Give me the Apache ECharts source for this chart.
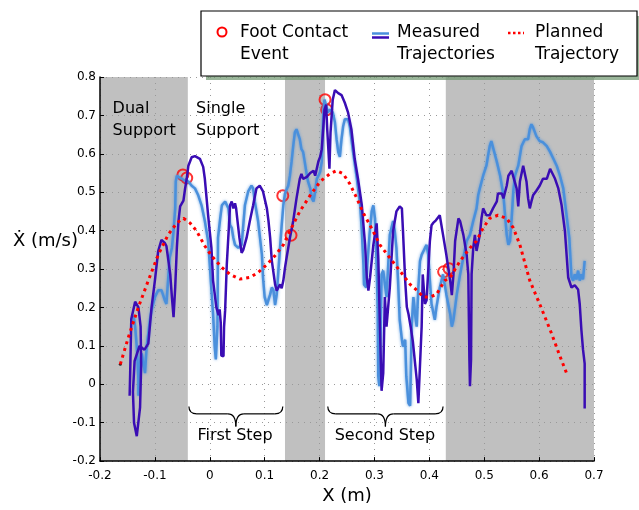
<!DOCTYPE html>
<html>
<head>
<meta charset="utf-8">
<script src="https://cdn.jsdelivr.net/npm/echarts@6/dist/echarts.min.js"></script>
<style>
html, body { margin: 0; padding: 0; background: #fff; }
#chart { width: 639px; height: 510px; }
</style>
</head>
<body>
<div id="chart"></div>
<script>
// measured trajectory, trial 1 (dark)
const measuredDark = [
  [-0.146,-0.03],[-0.145,0.03],[-0.143,0.17],[-0.136,0.215],[-0.130,0.20],[-0.126,0.15],[-0.125,0.05],[-0.127,-0.06],
  [-0.133,-0.135],[-0.138,-0.10],[-0.140,-0.02],[-0.137,0.06],[-0.128,0.10],[-0.119,0.09],[-0.112,0.106],[-0.106,0.201],
  [-0.100,0.270],[-0.094,0.347],[-0.088,0.376],[-0.082,0.368],[-0.079,0.360],[-0.072,0.286],[-0.069,0.227],[-0.066,0.175],
  [-0.063,0.252],[-0.060,0.355],[-0.057,0.425],[-0.054,0.463],[-0.048,0.478],[-0.045,0.509],[-0.042,0.535],[-0.039,0.569],
  [-0.033,0.591],[-0.027,0.594],[-0.018,0.587],[-0.012,0.566],[-0.009,0.535],[-0.003,0.440],[0.003,0.355],[0.006,0.270],
  [0.012,0.200],[0.016,0.180],[0.018,0.195],[0.020,0.160],[0.021,0.075],[0.025,0.073],[0.026,0.149],[0.028,0.193],
  [0.031,0.312],[0.037,0.466],[0.040,0.476],[0.043,0.458],[0.046,0.471],[0.048,0.458],[0.050,0.432],[0.054,0.381],
  [0.058,0.342],[0.061,0.350],[0.067,0.381],[0.073,0.425],[0.079,0.466],[0.085,0.510],[0.091,0.517],[0.097,0.502],
  [0.104,0.458],[0.107,0.425],[0.110,0.381],[0.113,0.322],[0.119,0.260],[0.122,0.244],[0.128,0.260],[0.131,0.250],
  [0.134,0.270],[0.137,0.303],[0.140,0.330],[0.146,0.381],[0.152,0.425],[0.158,0.484],[0.164,0.535],[0.167,0.548],
  [0.170,0.535],[0.177,0.540],[0.183,0.550],[0.189,0.556],[0.192,0.543],[0.198,0.581],[0.201,0.592],[0.204,0.612],
  [0.207,0.672],[0.209,0.715],[0.212,0.728],[0.214,0.664],[0.218,0.561],[0.220,0.656],[0.224,0.741],[0.228,0.766],
  [0.234,0.758],[0.240,0.753],[0.246,0.733],[0.252,0.707],[0.258,0.664],[0.264,0.587],[0.270,0.535],[0.277,0.466],
  [0.283,0.363],[0.286,0.278],[0.289,0.244],[0.292,0.278],[0.298,0.363],[0.304,0.419],[0.307,0.329],[0.310,0.150],
  [0.313,-0.017],[0.316,0.029],[0.319,0.227],[0.322,0.150],[0.328,0.252],[0.334,0.399],[0.340,0.450],[0.346,0.463],
  [0.350,0.458],[0.352,0.399],[0.356,0.270],[0.359,0.201],[0.362,0.183],[0.366,0.150],[0.370,0.111],[0.377,0.013],
  [0.380,-0.049],[0.383,-0.051],[0.386,0.150],[0.388,0.286],[0.392,0.209],[0.395,0.219],[0.401,0.373],[0.404,0.414],
  [0.407,0.420],[0.412,0.427],[0.419,0.440],[0.425,0.389],[0.431,0.337],[0.438,0.270],[0.441,0.232],[0.444,0.286],
  [0.447,0.373],[0.453,0.432],[0.456,0.425],[0.462,0.389],[0.468,0.337],[0.471,0.286],[0.473,0.065],[0.474,-0.005],
  [0.476,0.065],[0.477,0.286],[0.480,0.355],[0.483,0.389],[0.486,0.347],[0.489,0.347],[0.492,0.389],[0.495,0.432],
  [0.498,0.458],[0.504,0.440],[0.510,0.440],[0.516,0.458],[0.523,0.476],[0.525,0.497],[0.532,0.497],[0.535,0.484],
  [0.541,0.517],[0.544,0.543],[0.550,0.556],[0.553,0.561],[0.559,0.510],[0.562,0.463],[0.565,0.528],[0.571,0.569],
  [0.577,0.528],[0.580,0.484],[0.583,0.458],[0.586,0.476],[0.589,0.492],[0.595,0.504],[0.601,0.517],[0.607,0.535],
  [0.614,0.535],[0.620,0.561],[0.623,0.556],[0.629,0.535],[0.635,0.510],[0.641,0.466],[0.647,0.399],[0.653,0.278],
  [0.656,0.273],[0.659,0.252],[0.665,0.258],[0.671,0.247],[0.674,0.209],[0.677,0.142],[0.680,0.090],[0.683,0.054],
  [0.683,-0.063]
];

// measured trajectory, trial 2 (light)
const measuredLight = [
  [-0.139,0.180],[-0.136,0.150],[-0.133,0.098],[-0.130,0.013],[-0.130,-0.030],[-0.127,0.055],[-0.124,0.080],[-0.121,0.080],
  [-0.118,0.029],[-0.115,0.098],[-0.112,0.132],[-0.109,0.168],[-0.106,0.193],[-0.100,0.227],[-0.094,0.245],[-0.088,0.245],
  [-0.082,0.219],[-0.079,0.209],[-0.076,0.270],[-0.073,0.330],[-0.069,0.355],[-0.066,0.399],[-0.063,0.458],[-0.062,0.528],
  [-0.060,0.543],[-0.057,0.548],[-0.051,0.535],[-0.045,0.530],[-0.039,0.528],[-0.033,0.517],[-0.027,0.510],[-0.021,0.492],
  [-0.015,0.466],[-0.009,0.425],[-0.003,0.373],[0.000,0.311],[0.003,0.245],[0.006,0.183],[0.009,0.098],[0.011,0.065],
  [0.014,0.150],[0.015,0.381],[0.019,0.432],[0.022,0.466],[0.028,0.476],[0.034,0.458],[0.037,0.414],[0.040,0.407],
  [0.043,0.381],[0.046,0.363],[0.052,0.355],[0.055,0.350],[0.058,0.363],[0.061,0.414],[0.064,0.466],[0.070,0.502],
  [0.076,0.517],[0.079,0.510],[0.082,0.476],[0.088,0.425],[0.095,0.337],[0.097,0.278],[0.100,0.227],[0.104,0.206],
  [0.107,0.206],[0.110,0.234],[0.113,0.252],[0.116,0.245],[0.119,0.206],[0.122,0.234],[0.125,0.296],[0.128,0.355],
  [0.131,0.414],[0.134,0.466],[0.137,0.497],[0.143,0.517],[0.146,0.543],[0.149,0.579],[0.152,0.620],[0.155,0.656],
  [0.158,0.664],[0.161,0.659],[0.164,0.638],[0.167,0.612],[0.170,0.605],[0.173,0.579],[0.177,0.543],[0.179,0.528],
  [0.183,0.510],[0.186,0.484],[0.189,0.476],[0.192,0.502],[0.195,0.535],[0.198,0.543],[0.201,0.553],[0.204,0.579],
  [0.207,0.708],[0.209,0.741],[0.212,0.741],[0.215,0.708],[0.219,0.715],[0.224,0.708],[0.228,0.682],[0.231,0.638],
  [0.234,0.605],[0.237,0.592],[0.240,0.638],[0.243,0.672],[0.246,0.690],[0.249,0.695],[0.252,0.690],[0.255,0.672],
  [0.261,0.605],[0.268,0.535],[0.274,0.466],[0.277,0.399],[0.280,0.311],[0.281,0.260],[0.285,0.252],[0.287,0.311],
  [0.291,0.389],[0.295,0.450],[0.298,0.466],[0.301,0.432],[0.304,0.311],[0.306,0.193],[0.307,0.021],[0.309,-0.005],
  [0.310,0.013],[0.313,0.286],[0.316,0.296],[0.322,0.227],[0.328,0.389],[0.334,0.425],[0.337,0.399],[0.340,0.355],
  [0.343,0.270],[0.346,0.168],[0.350,0.116],[0.352,0.098],[0.356,0.116],[0.358,0.021],[0.362,-0.049],[0.365,-0.056],
  [0.368,0.157],[0.371,0.227],[0.374,0.183],[0.377,0.150],[0.380,0.252],[0.383,0.321],[0.386,0.337],[0.392,0.355],
  [0.395,0.363],[0.398,0.337],[0.401,0.270],[0.404,0.209],[0.410,0.168],[0.413,0.201],[0.419,0.252],[0.425,0.286],
  [0.431,0.234],[0.438,0.183],[0.441,0.150],[0.444,0.168],[0.447,0.201],[0.450,0.234],[0.456,0.286],[0.462,0.330],
  [0.468,0.373],[0.474,0.389],[0.480,0.425],[0.486,0.458],[0.489,0.492],[0.492,0.510],[0.498,0.543],[0.504,0.569],
  [0.507,0.595],[0.510,0.620],[0.513,0.633],[0.516,0.630],[0.523,0.579],[0.529,0.543],[0.535,0.492],[0.538,0.440],
  [0.541,0.389],[0.544,0.363],[0.547,0.373],[0.550,0.432],[0.553,0.502],[0.556,0.543],[0.562,0.569],[0.568,0.620],
  [0.574,0.638],[0.580,0.638],[0.583,0.664],[0.586,0.677],[0.589,0.669],[0.595,0.646],[0.601,0.633],[0.607,0.630],
  [0.614,0.620],[0.620,0.605],[0.626,0.587],[0.632,0.569],[0.638,0.543],[0.644,0.510],[0.650,0.440],[0.655,0.381],
  [0.657,0.330],[0.659,0.278],[0.662,0.270],[0.665,0.286],[0.668,0.273],[0.671,0.296],[0.674,0.270],[0.677,0.286],
  [0.680,0.273],[0.683,0.321]
];

const plannedTrajectory = [
  [-0.163,0.052],[-0.148,0.124],[-0.130,0.201],[-0.112,0.270],[-0.094,0.337],[-0.076,0.389],[-0.060,0.420],[-0.048,0.432],
  [-0.036,0.420],[-0.024,0.399],[-0.009,0.360],[0.003,0.335],[0.022,0.304],[0.037,0.286],[0.055,0.274],[0.073,0.278],
  [0.088,0.291],[0.104,0.312],[0.119,0.335],[0.134,0.363],[0.146,0.399],[0.164,0.450],[0.183,0.492],[0.201,0.528],
  [0.219,0.548],[0.231,0.556],[0.243,0.548],[0.255,0.522],[0.268,0.484],[0.280,0.445],[0.292,0.414],[0.310,0.363],
  [0.328,0.329],[0.346,0.296],[0.365,0.260],[0.377,0.245],[0.389,0.227],[0.401,0.227],[0.413,0.234],[0.428,0.270],
  [0.438,0.278],[0.456,0.321],[0.474,0.355],[0.486,0.373],[0.498,0.407],[0.510,0.432],[0.525,0.440],[0.541,0.432],
  [0.553,0.407],[0.565,0.363],[0.583,0.270],[0.601,0.209],[0.620,0.142],[0.638,0.073],[0.650,0.029]
];

const footContacts = [
  [-0.049,0.545],[-0.042,0.537],[0.133,0.491],[0.148,0.388],
  [0.210,0.741],[0.213,0.715],[0.426,0.293],[0.436,0.301]
];

// shaded dual-support phases [xStart, xEnd]
const dualSupportSpans = [[-0.2,-0.04],[0.137,0.21],[0.43,0.7]];

const FONT = 'DejaVu Sans';
const DARK = '#3a0db4';
const LIGHT = '#4a90dc';
const fmt = v => String(Math.round(v * 10) / 10);

const chart = echarts.init(document.getElementById('chart'));

const axisCommon = {
  type: 'value',
  interval: 0.1,
  axisLine: { onZero: false, lineStyle: { color: '#000', width: 1.5 } },
  axisTick: { inside: true, length: 4, lineStyle: { color: '#000' } },
  splitLine: { show: true, lineStyle: { color: '#999', type: [1, 5], width: 1 } }
};

chart.setOption({
  animation: false,
  grid: { left: 100, right: 45, top: 77, bottom: 44 },
  xAxis: Object.assign({}, axisCommon, {
    min: -0.2, max: 0.7,
    name: 'X (m)', nameLocation: 'middle', nameGap: 23,
    nameTextStyle: { fontFamily: FONT, fontSize: 18, color: '#000' },
    axisLabel: { formatter: fmt, fontFamily: FONT, fontSize: 12, color: '#000', margin: 9 }
  }),
  yAxis: Object.assign({}, axisCommon, {
    min: -0.2, max: 0.8,
    axisLabel: { formatter: fmt, fontFamily: FONT, fontSize: 12, color: '#000', margin: 4 }
  }),
  series: [
    {
      type: 'custom',
      z: -1,
      silent: true,
      data: dualSupportSpans,
      encode: { x: [0, 1] },
      renderItem: function (params, api) {
        const p0 = api.coord([api.value(0), 0.8]);
        const p1 = api.coord([api.value(1), -0.2]);
        return {
          type: 'rect',
          shape: { x: p0[0], y: p0[1], width: p1[0] - p0[0], height: p1[1] - p0[1] },
          style: { fill: '#c0c0c0' }
        };
      }
    },
    {
      name: 'Measured Trajectories',
      type: 'line',
      data: measuredLight,
      showSymbol: false,
      lineStyle: { color: LIGHT, width: 2.5, shadowBlur: 3, shadowColor: 'rgba(74,144,220,0.8)' }
    },
    {
      name: 'Measured Trajectories 2',
      type: 'line',
      data: measuredDark,
      showSymbol: false,
      lineStyle: { color: DARK, width: 2.5 }
    },
    {
      name: 'Planned Trajectory',
      type: 'line',
      data: plannedTrajectory,
      showSymbol: false,
      lineStyle: { color: '#ff0000', width: 3, type: [3, 4], cap: 'butt' }
    },
    {
      type: 'scatter',
      data: [plannedTrajectory[0]],
      symbolSize: 3,
      itemStyle: { color: '#000' }
    },
    {
      name: 'Foot Contact Event',
      type: 'scatter',
      data: footContacts,
      symbol: 'circle',
      symbolSize: 11,
      itemStyle: { color: 'none', borderColor: '#ff0000', borderWidth: 2 }
    }
  ]
});

// annotations placed in data coordinates
function px(x, y) { return chart.convertToPixel({ gridIndex: 0 }, [x, y]); }

function brace(x1, x2, yTop, yMid, yTip) {
  const a = px(x1, yTop), b = px(x2, yTop);
  const m = px((x1 + x2) / 2, yMid), t = px((x1 + x2) / 2, yTip);
  const ym = m[1], xc = m[0], r = 8;
  const st = { fill: 'none', stroke: '#000', lineWidth: 1.2 };
  return [
    { type: 'bezierCurve', shape: { x1: a[0], y1: a[1], cpx1: a[0], cpy1: ym, x2: a[0] + r, y2: ym }, style: st },
    { type: 'line', shape: { x1: a[0] + r, y1: ym, x2: xc - r, y2: ym }, style: st },
    { type: 'bezierCurve', shape: { x1: xc - r, y1: ym, cpx1: xc, cpy1: ym, x2: xc, y2: t[1] }, style: st },
    { type: 'bezierCurve', shape: { x1: xc, y1: t[1], cpx1: xc, cpy1: ym, x2: xc + r, y2: ym }, style: st },
    { type: 'line', shape: { x1: xc + r, y1: ym, x2: b[0] - r, y2: ym }, style: st },
    { type: 'bezierCurve', shape: { x1: b[0] - r, y1: ym, cpx1: b[0], cpy1: ym, x2: b[0], y2: a[1] }, style: st }
  ];
}

const textStyle = { fontFamily: FONT, fontSize: 16, fill: '#000', lineHeight: 22 };
const legendText = { fontFamily: FONT, fontSize: 17, lineHeight: 22, fill: '#000', verticalAlign: 'middle' };
const dualPos = px(-0.177, 0.689);
const singlePos = px(-0.025, 0.689);
const firstPos = px(0.046, -0.135);
const secondPos = px(0.319, -0.135);
const yNamePos = px(-0.2, 0.372);

chart.setOption({
  graphic: [
    { type: 'text', x: yNamePos[0] - 22, y: yNamePos[1], style: { text: 'Ẋ (m/s)', fontFamily: FONT, fontSize: 18, fill: '#000', align: 'right', verticalAlign: 'middle' } },
    { type: 'text', x: dualPos[0], y: dualPos[1], style: Object.assign({ text: 'Dual\nSupport', verticalAlign: 'middle' }, textStyle) },
    { type: 'text', x: singlePos[0], y: singlePos[1], style: Object.assign({ text: 'Single\nSupport', verticalAlign: 'middle' }, textStyle) },
    { type: 'text', x: firstPos[0], y: firstPos[1], style: Object.assign({ text: 'First Step', align: 'center', verticalAlign: 'middle' }, textStyle) },
    { type: 'text', x: secondPos[0], y: secondPos[1], style: Object.assign({ text: 'Second Step', align: 'center', verticalAlign: 'middle' }, textStyle) }
  ]
  .concat(brace(-0.038, 0.133, -0.058, -0.077, -0.11))
  .concat(brace(0.215, 0.425, -0.058, -0.077, -0.11))
  .concat([
    // legend box
    { type: 'rect', z: 100, shape: { x: 206, y: 16, width: 434, height: 64 }, style: { fill: 'rgba(110,150,110,0.7)' } },
    { type: 'rect', z: 101, shape: { x: 201, y: 11, width: 436, height: 65 }, style: { fill: '#fff', stroke: '#000', lineWidth: 1.2 } },
    { type: 'circle', z: 102, shape: { cx: 222, cy: 32, r: 4.5 }, style: { fill: 'none', stroke: '#ff0000', lineWidth: 2 } },
    { type: 'text', z: 102, x: 240, y: 44, style: Object.assign({ text: 'Foot Contact\nEvent' }, legendText) },
    { type: 'line', z: 102, shape: { x1: 372, y1: 33.5, x2: 389, y2: 33.5 }, style: { stroke: LIGHT, lineWidth: 2.5 } },
    { type: 'line', z: 102, shape: { x1: 372, y1: 37.5, x2: 389, y2: 37.5 }, style: { stroke: DARK, lineWidth: 2.5 } },
    { type: 'text', z: 102, x: 397, y: 44, style: Object.assign({ text: 'Measured\nTrajectories' }, legendText) },
    { type: 'line', z: 102, shape: { x1: 508, y1: 33, x2: 524, y2: 33 }, style: { stroke: '#ff0000', lineWidth: 2.5, lineDash: [2.5, 2.5] } },
    { type: 'text', z: 102, x: 535, y: 44, style: Object.assign({ text: 'Planned\nTrajectory' }, legendText) }
  ])
});
</script>
</body>
</html>
